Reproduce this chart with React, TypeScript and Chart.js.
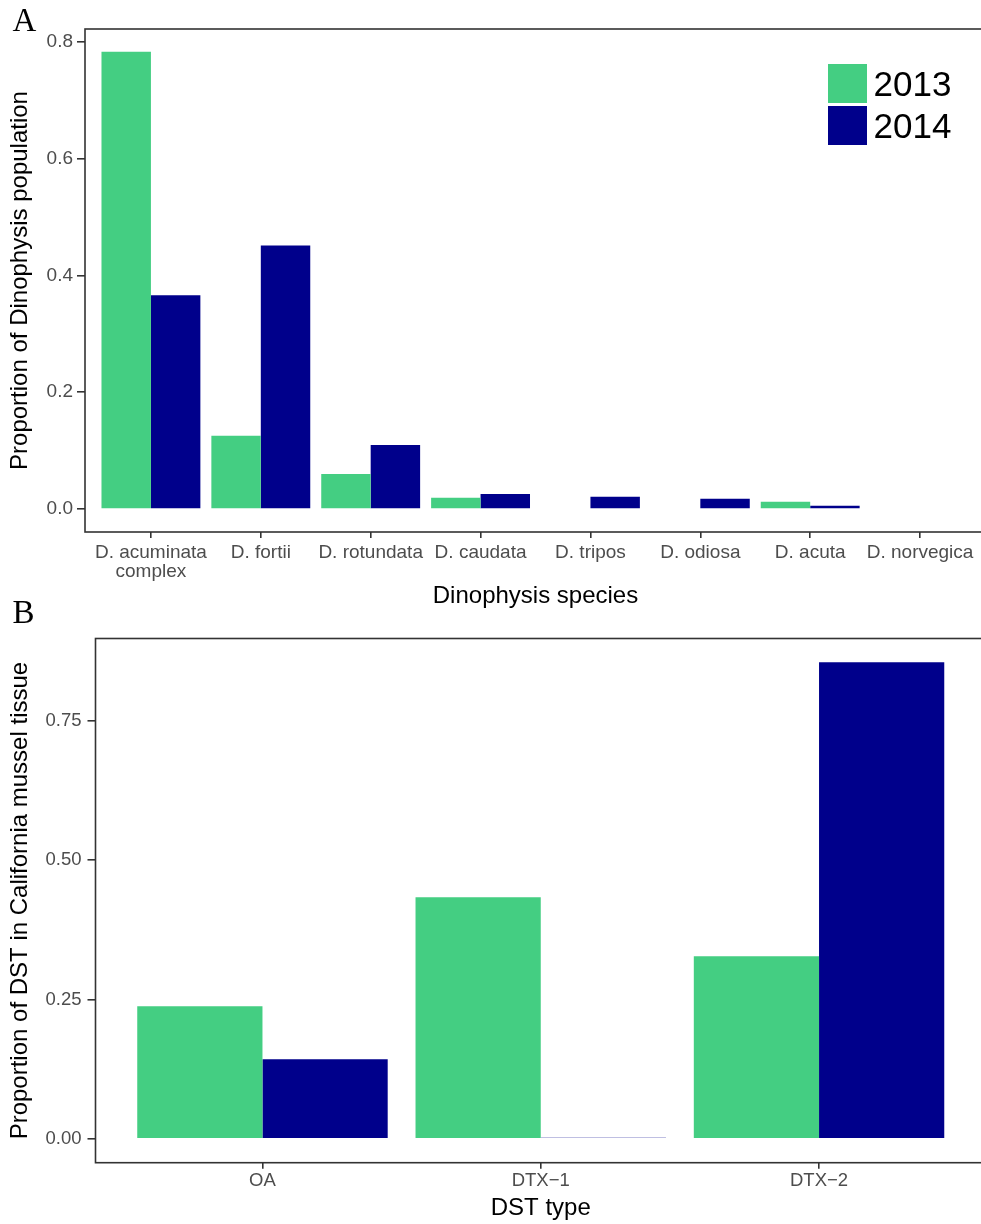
import React, { useEffect, useRef } from "react";
import { Chart, registerables } from "chart.js";

Chart.register(...registerables);

// ---------- data ----------
const species = [
  "D. acuminata complex",
  "D. fortii",
  "D. rotundata",
  "D. caudata",
  "D. tripos",
  "D. odiosa",
  "D. acuta",
  "D. norvegica",
];
const speciesShare2013 = [0.7825, 0.1257, 0.0603, 0.0193, 0.0015, 0.0015, 0.0125, 0.0015];
const speciesShare2014 = [0.366, 0.451, 0.1098, 0.026, 0.021, 0.0176, 0.0056, 0.0015];
const speciesTicks = [0, 0.2, 0.4, 0.6, 0.8];

const dstTypes = ["OA", "DTX\u22121", "DTX\u22122"];
const dstShare2013 = [0.238, 0.4337, 0.3278];
const dstShare2014 = [0.143, 0.0015, 0.8553];
const dstTicks = [0, 0.25, 0.5, 0.75];

const years = ["2013", "2014"];

// ---------- styles ----------
const GREEN = "#44CE82";
const NAVY = "#00008B";
const SANS = "'Liberation Sans', Arial, Helvetica, sans-serif";
const AXIS = "#333333";

function wrapLabel(s: string) {
  if (!s) return "";
  if (s.length > 14) {
    const k = s.lastIndexOf(" ");
    return [s.slice(0, k), s.slice(k + 1)];
  }
  return s;
}

const panelBorder = {
  id: "panelBorder",
  afterDatasetsDraw(chart: any) {
    const { ctx, chartArea } = chart;
    const { left, top, right, bottom } = chartArea;
    ctx.save();
    ctx.strokeStyle = AXIS;
    ctx.lineWidth = 1.6;
    ctx.strokeRect(left, top, right - left, bottom - top);
    ctx.restore();
  },
};

const yearLegend = {
  id: "yearLegend",
  afterDraw(chart: any, _args: any, opts: any) {
    if (!opts || !opts.show) return;
    const { ctx } = chart;
    ctx.save();
    chart.data.datasets.forEach((ds: any, i: number) => {
      const y = opts.y + i * (opts.box + opts.gap);
      ctx.fillStyle = ds.backgroundColor;
      ctx.fillRect(opts.x, y, opts.box, opts.box);
      ctx.fillStyle = "#000";
      ctx.font = `${opts.fontSize}px ${SANS}`;
      ctx.textBaseline = "alphabetic";
      ctx.textAlign = "left";
      ctx.fillText(ds.label, opts.x + opts.box + 6.5, y + opts.box / 2 + opts.fontSize * 0.352);
    });
    ctx.restore();
  },
};

type PanelOpts = {
  cats: string[];
  s13: number[];
  s14: number[];
  ticks: number[];
  decimals: number;
  yWidth: number;
  xHeight: number;
  padding: { top: number; left: number; right: number; bottom: number };
  xTitle: string;
  yTitle: string;
  tickSize: number;
  yTickLen: number;
  yTickPad: number;
  xTickLen: number;
  xTickPad: number;
  xTitlePadBottom: number;
  yTitlePadTop: number;
  legend: any;
};

function makeConfig(o: PanelOpts): any {
  const maxV = Math.max(...o.s13, ...o.s14);
  const ext = maxV * 0.05;
  const n = o.cats.length;
  const gridOpts = (len: number) => ({
    display: true,
    offset: false,
    drawOnChartArea: false,
    drawTicks: true,
    tickLength: len,
    tickColor: AXIS,
    color: AXIS,
    lineWidth: 1.6,
  });
  return {
    type: "bar",
    data: {
      datasets: [
        {
          label: years[0],
          data: o.s13.map((y, i) => ({ x: i + 1, y })),
          backgroundColor: GREEN,
          borderWidth: 0,
          minBarLength: 1,
          categoryPercentage: 0.9,
          barPercentage: 1,
        },
        {
          label: years[1],
          data: o.s14.map((y, i) => ({ x: i + 1, y })),
          backgroundColor: NAVY,
          borderWidth: 0,
          minBarLength: 1,
          categoryPercentage: 0.9,
          barPercentage: 1,
        },
      ],
    },
    options: {
      responsive: false,
      animation: false,
      events: [],
      layout: { padding: o.padding },
      plugins: {
        legend: { display: false },
        tooltip: { enabled: false },
        yearLegend: o.legend,
      },
      scales: {
        x: {
          type: "linear",
          min: 0.4,
          max: n + 0.6,
          offset: false,
          afterBuildTicks: (s: any) => {
            s.ticks = o.cats.map((_, i) => ({ value: i + 1 }));
          },
          afterFit: (s: any) => {
            s.height = o.xHeight;
          },
          ticks: {
            autoSkip: false,
            maxRotation: 0,
            minRotation: 0,
            color: "#4D4D4D",
            padding: o.xTickPad,
            font: { family: SANS, size: o.tickSize, lineHeight: 1.02 },
            callback: (v: any) => wrapLabel(o.cats[Math.round(Number(v)) - 1]),
          },
          grid: gridOpts(o.xTickLen),
          border: { display: false },
          title: {
            display: true,
            text: o.xTitle,
            color: "#000",
            font: { family: SANS, size: 24, lineHeight: 1.2 },
            padding: { top: 0, bottom: o.xTitlePadBottom },
          },
        },
        y: {
          type: "linear",
          min: -ext,
          max: maxV + ext,
          afterBuildTicks: (s: any) => {
            s.ticks = o.ticks.map((v) => ({ value: v }));
          },
          afterFit: (s: any) => {
            s.width = o.yWidth;
          },
          ticks: {
            color: "#4D4D4D",
            padding: o.yTickPad,
            font: { family: SANS, size: o.tickSize },
            callback: (v: any) => Number(v).toFixed(o.decimals),
          },
          grid: gridOpts(o.yTickLen),
          border: { display: false },
          title: {
            display: true,
            text: o.yTitle,
            color: "#000",
            font: { family: SANS, size: 24, lineHeight: 1.2 },
            padding: { top: o.yTitlePadTop, bottom: 0 },
          },
        },
      },
    },
    plugins: [panelBorder, yearLegend],
  };
}

function ChartCanvas(props: { build: () => any; top: number; width: number; height: number }) {
  const ref = useRef<HTMLCanvasElement>(null);
  useEffect(() => {
    const chart = new Chart(ref.current as HTMLCanvasElement, props.build());
    return () => chart.destroy();
  }, []);
  return (
    <canvas
      ref={ref}
      width={props.width}
      height={props.height}
      style={{
        position: "absolute",
        left: 0,
        top: props.top,
        width: props.width,
        height: props.height,
        display: "block",
      }}
    />
  );
}

const buildA = () =>
  makeConfig({
    cats: species,
    s13: speciesShare2013,
    s14: speciesShare2014,
    ticks: speciesTicks,
    decimals: 1,
    yWidth: 85,
    xHeight: 88,
    padding: { top: 29, left: 0, right: 4, bottom: 0 },
    xTitle: "Dinophysis species",
    yTitle: "Proportion of Dinophysis population",
    tickSize: 19,
    yTickLen: 8,
    yTickPad: 4,
    xTickLen: 6,
    xTickPad: 5,
    xTitlePadBottom: 8.8,
    yTitlePadTop: 6.4,
    legend: { show: true, x: 828, y: 64, box: 39, gap: 3, fontSize: 35 },
  });

const buildB = () =>
  makeConfig({
    cats: dstTypes,
    s13: dstShare2013,
    s14: dstShare2014,
    ticks: dstTicks,
    decimals: 2,
    yWidth: 95.5,
    xHeight: 61.3,
    padding: { top: 48.5, left: 0, right: 4, bottom: 0 },
    xTitle: "DST type",
    yTitle: "Proportion of DST in California mussel tissue",
    tickSize: 18.5,
    yTickLen: 8,
    yTickPad: 6,
    xTickLen: 6,
    xTickPad: 3,
    xTitlePadBottom: 0.8,
    yTitlePadTop: 6.4,
    legend: { show: false },
  });

const letterStyle: React.CSSProperties = {
  position: "absolute",
  left: 12.5,
  fontFamily: "'Liberation Serif', 'Times New Roman', serif",
  fontSize: 33,
  lineHeight: "33px",
  color: "#000",
};

export default function App() {
  return (
    <div
      style={{
        position: "absolute",
        left: 0,
        top: 0,
        width: 981,
        height: 1224,
        overflow: "hidden",
        background: "#fff",
      }}
    >
      <ChartCanvas build={buildA} top={0} width={990} height={620} />
      <ChartCanvas build={buildB} top={590} width={990} height={634} />
      <div style={{ ...letterStyle, top: 4.1 }}>A</div>
      <div style={{ ...letterStyle, top: 596.4 }}>B</div>
    </div>
  );
}
